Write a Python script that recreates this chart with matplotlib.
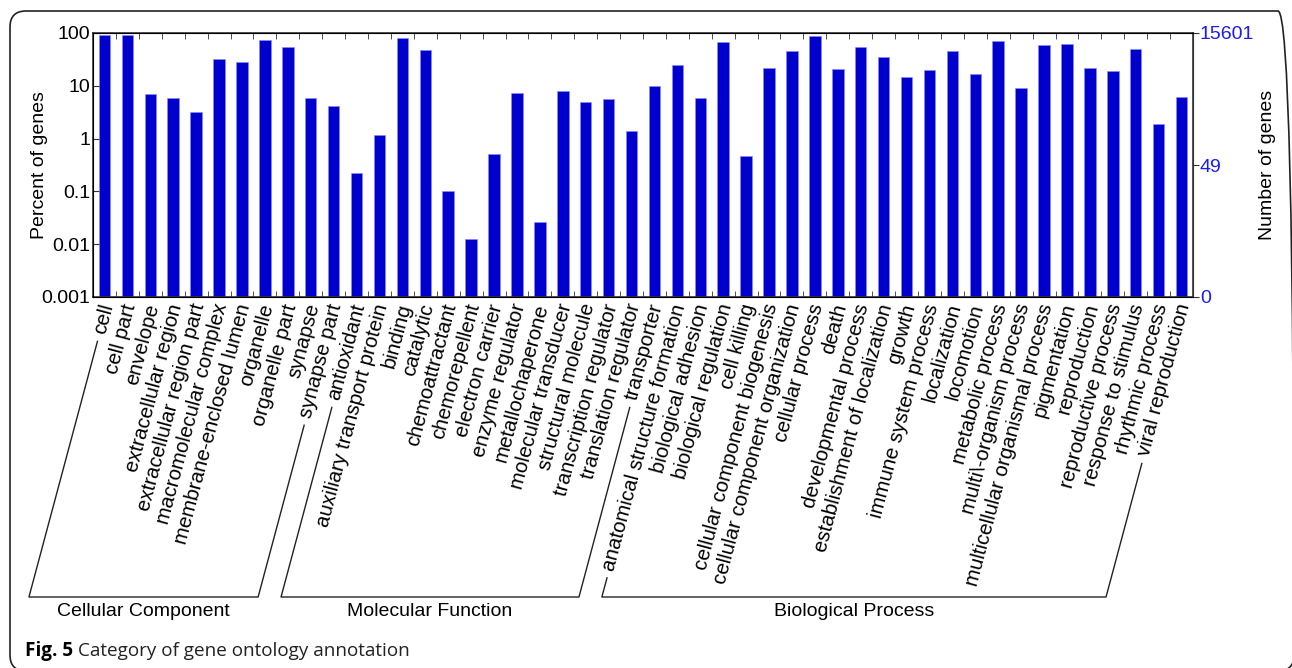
import numpy as np
import matplotlib
matplotlib.use("Agg")
import matplotlib.pyplot as plt
from matplotlib.patches import FancyBboxPatch
from matplotlib.lines import Line2D

# ---- data ----
cc_terms = ["cell", "cell part", "envelope", "extracellular region",
            "extracellular region part", "macromolecular complex",
            "membrane-enclosed lumen", "organelle", "organelle part",
            "synapse", "synapse part"]
cc_pct = [91.6, 91.0, 7.05, 5.8, 3.16, 32, 28, 74.6, 54, 6.0, 4.1]

mf_terms = ["antioxidant", "auxiliary transport protein", "binding", "catalytic",
            "chemoattractant", "chemorepellent", "electron carrier",
            "enzyme regulator", "metallochaperone", "molecular transducer",
            "structural molecule", "transcription regulator",
            "translation regulator", "transporter"]
mf_pct = [0.223, 1.16, 80, 47.5, 0.101, 0.0128, 0.505, 7.26, 0.0258, 7.9,
          4.97, 5.66, 1.42, 9.86]

bp_terms = ["anatomical structure formation", "biological adhesion",
            "biological regulation", "cell killing",
            "cellular component biogenesis", "cellular component organization",
            "cellular process", "death", "developmental process",
            "establishment of localization", "growth", "immune system process",
            "localization", "locomotion", "metabolic process",
            "multi\\-organism process", "multicellular organismal process",
            "pigmentation", "reproduction", "reproductive process",
            "response to stimulus", "rhythmic process", "viral reproduction"]
bp_pct = [24.3, 6.0, 67.5, 0.46, 21.6, 45.5, 86, 21, 53.5, 35.6, 14.4, 19.8,
          44.9, 16.7, 70.5, 9.04, 60, 62.7, 21.6, 19.3, 49.6, 1.87, 6.1]

groups = ["Cellular Component", "Molecular Function", "Biological Process"]
total_genes = 15601
right_counts = [0, 49, 15601]

# ---- setup ----
W, H, DPI = 1292, 668, 100
plt.rcParams['font.family'] = ['Liberation Sans', 'DejaVu Sans']
FS = 14
FS_LAB = 14.8
BAR_C = '#0000cc'
AXIS_C = '#333333'

terms = cc_terms + mf_terms + bp_terms
pct = cc_pct + mf_pct + bp_pct
sizes = [len(cc_terms), len(mf_terms), len(bp_terms)]
x = np.arange(1, len(terms) + 1)

fig = plt.figure(figsize=(W / DPI, H / DPI), dpi=DPI)
ax = fig.add_axes([93 / W, 1 - 297 / H, 1100 / W, 264 / H])

ax.bar(x, pct, width=0.5, color=BAR_C, edgecolor='#8a8aff', linewidth=0.4)
ax.set_yscale('log')
ax.set_ylim(0.001, 100)
ax.set_xlim(0.5, len(terms) + 0.5)
ax.set_yticks([0.001, 0.01, 0.1, 1, 10, 100])
ax.set_yticklabels(['0.001', '0.01', '0.1', '1', '10', '100'], fontsize=FS)
ax.yaxis.set_minor_locator(matplotlib.ticker.NullLocator())
ax.tick_params(axis='y', direction='in', length=4, color=AXIS_C, pad=2)
ax.set_ylabel("Percent of genes", fontsize=FS)
ax.yaxis.set_label_coords(-45 / 1100, 0.5)

ax.set_xticks(x)
ax.set_xticklabels([])
ax.set_xticks(x[:-1] + 0.5, minor=True)
ax.tick_params(axis='x', which='major', length=0)
ax.tick_params(axis='x', which='minor', direction='in', length=4,
               top=True, bottom=True, color=AXIS_C)
for s in ax.spines.values():
    s.set_color(AXIS_C)
    s.set_linewidth(1.2)

ax2 = ax.twinx()
ax2.set_yscale('log')
ax2.set_ylim(0.001, 100)
rpos = [max(100.0 * c / total_genes, 0.001) for c in right_counts]
ax2.set_yticks(rpos)
ax2.set_yticklabels([str(c) for c in right_counts], fontsize=FS, color='#1a1aff')
ax2.yaxis.set_minor_locator(matplotlib.ticker.NullLocator())
ax2.tick_params(axis='y', direction='out', length=4, color=AXIS_C, pad=1)
ax2.set_ylabel("Number of genes", fontsize=FS)
ax2.yaxis.set_label_coords(1 + 66 / 1100, 0.5)
ax2.spines['right'].set_color(AXIS_C)

# rotated category labels
ANG = 75
ca, sa = np.cos(np.radians(ANG)), np.sin(np.radians(ANG))
to_disp = ax.transData
y_lab = 1 - 304 / H  # figure fraction for label anchor
labels = []
for xi, t in zip(x, terms):
    xd = to_disp.transform((xi, 1))[0]
    txt = fig.text(xd / W + 3 / W, y_lab, t, fontsize=FS_LAB, rotation=ANG,
                   rotation_mode='anchor', ha='right', va='center')
    labels.append(txt)

# group brackets following the label direction
fig.canvas.draw()
rend = fig.canvas.get_renderer()

def label_start(txt):
    tmp = fig.text(0, 0, txt.get_text(), fontsize=FS_LAB)
    w = tmp.get_window_extent(rend).width
    tmp.remove()
    axp, ayp = txt.get_position()
    axp, ayp = axp * W, ayp * H
    return axp - w * ca, ayp - w * sa

GAP = 8
Y_BOT = H - 597
start = 0
for g, n in zip(groups, sizes):
    i0, i1 = start, start + n - 1
    pts = []
    for i in (i0, i1):
        sx, sy = label_start(labels[i])
        tx, ty = sx - GAP * ca, sy - GAP * sa
        bx = tx - (ty - Y_BOT) / np.tan(np.radians(ANG))
        pts.append(((tx, ty), (bx, Y_BOT)))
    (t0, b0), (t1, b1) = pts
    xs = [t0[0], b0[0], b1[0], t1[0]]
    ys = [t0[1], b0[1], b1[1], t1[1]]
    fig.add_artist(Line2D(np.array(xs) / W, np.array(ys) / H, color='#222222',
                          lw=1.0, transform=fig.transFigure))
    fig.text((b0[0] + b1[0]) / 2 / W, (Y_BOT - 15) / H, g, fontsize=FS,
             ha='center', va='center')
    start += n

# caption
CAP_FS = 13.6
cap1 = fig.text(25 / W, 1 - 651 / H, "Fig. 5", fontsize=CAP_FS, fontweight='bold',
                family='Open Sans', va='center', ha='left')
fig.canvas.draw()
bb = cap1.get_window_extent(fig.canvas.get_renderer())
fig.text((bb.x1 + 5) / W, 1 - 651 / H, "Category of gene ontology annotation",
         fontsize=CAP_FS, family='Open Sans', va='center', ha='left', color='#222222')

# rounded frame around the figure (pixel coordinates)
frame = FancyBboxPatch((10, -3), 1284, H - 11 + 3,
                       boxstyle="round,pad=0,rounding_size=16",
                       transform=None, fill=False, ec='#222222', lw=1.2)
fig.add_artist(frame)

fig.savefig("out.png", dpi=DPI, facecolor='white')
